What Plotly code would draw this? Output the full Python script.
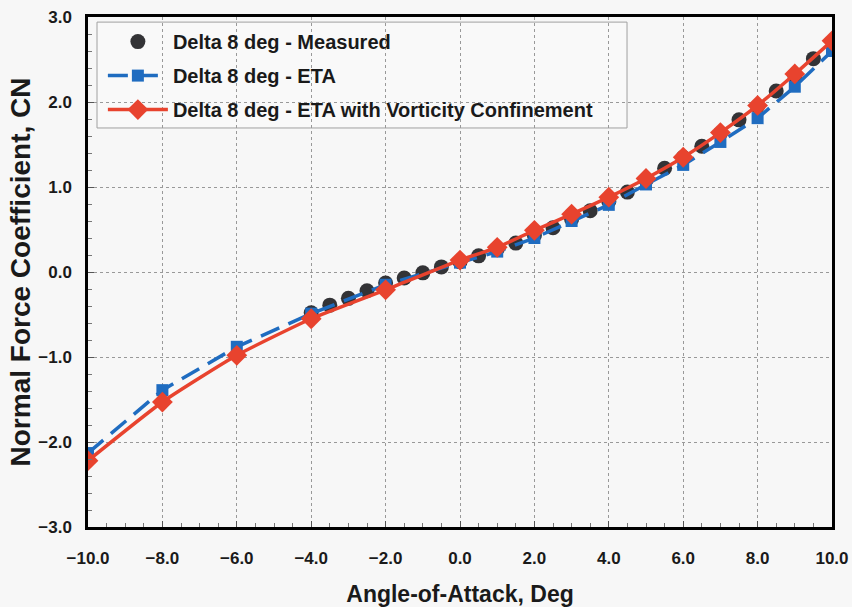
import plotly.graph_objects as go

# ---- data ----
meas_x = [-4.0, -3.5, -3.0, -2.5, -2.0, -1.5, -1.0, -0.5, 0.0, 0.5, 1.0, 1.5, 2.0, 2.5,
          3.0, 3.5, 4.0, 4.5, 5.0, 5.5, 6.0, 6.5, 7.0, 7.5, 8.0, 8.5, 9.0, 9.5]
meas_y = [-0.48, -0.39, -0.31, -0.22, -0.13, -0.07, -0.01, 0.06, 0.12, 0.19, 0.27, 0.34,
          0.43, 0.52, 0.62, 0.72, 0.83, 0.94, 1.08, 1.22, 1.35, 1.48, 1.63, 1.79, 1.95,
          2.13, 2.31, 2.51]

eta_x = [-10, -8, -6, -4, -2, 0, 1, 2, 3, 4, 5, 6, 7, 8, 9, 10]
eta_y = [-2.13, -1.39, -0.88, -0.49, -0.15, 0.11, 0.24, 0.40, 0.60, 0.79, 1.03, 1.26,
         1.53, 1.81, 2.18, 2.60]

vc_x = [-10, -8, -6, -4, -2, 0, 1, 2, 3, 4, 5, 6, 7, 8, 9, 10]
vc_y = [-2.22, -1.53, -0.98, -0.55, -0.21, 0.14, 0.29, 0.49, 0.68, 0.88, 1.10, 1.35,
        1.64, 1.96, 2.33, 2.72]

x_ticks = [-10, -8, -6, -4, -2, 0, 2, 4, 6, 8, 10]
y_ticks = [-3, -2, -1, 0, 1, 2, 3]

names = ["Delta 8 deg - Measured", "Delta 8 deg - ETA",
         "Delta 8 deg - ETA with Vorticity Confinement"]

BLUE = "#1f6cc0"
RED = "#e8432e"
DARK = "#333336"
FONT = "Liberation Sans, Arial, sans-serif"

fig = go.Figure()

fig.add_trace(go.Scatter(
    x=meas_x, y=meas_y, mode="markers", name=names[0], legendgroup="a",
    marker=dict(symbol="circle", size=15, color=DARK)))

fig.add_trace(go.Scatter(
    x=eta_x, y=eta_y, mode="lines+markers", name=names[1], legendgroup="b",
    line=dict(color=BLUE, width=3.5, dash="20px,10px"),
    marker=dict(symbol="square", size=12, color=BLUE)))

fig.add_trace(go.Scatter(
    x=vc_x, y=vc_y, mode="lines+markers", name=names[2], legendgroup="c",
    line=dict(color=RED, width=3.5, shape="spline", smoothing=0.5),
    marker=dict(symbol="diamond", size=16, color=RED)))

axis_common = dict(
    showline=True, linecolor="black", linewidth=2.5, mirror=True,
    showgrid=True, gridcolor="#999999", gridwidth=1, griddash="dot",
    zeroline=False, ticks="inside", ticklen=6, tickcolor="#555",
    tickformat=".1f", automargin=False,
    tickfont=dict(family=FONT, size=17, color="#1a1a1a", weight="bold"),
)

fig.update_xaxes(
    range=[-10, 10], tickvals=x_ticks, ticklabelstandoff=14,
    minor=dict(dtick=0.5, ticks="inside", ticklen=4, tickcolor="#777", showgrid=False),
    title=dict(text="Angle-of-Attack, Deg", standoff=24,
               font=dict(family=FONT, size=23, color="#1a1a1a", weight="bold")),
    **axis_common)

fig.update_yaxes(
    range=[-3, 3], tickvals=y_ticks, ticklabelstandoff=10,
    minor=dict(dtick=0.2, ticks="inside", ticklen=4, tickcolor="#777", showgrid=False),
    title=dict(text="Normal Force Coefficient, CN", standoff=0,
               font=dict(family=FONT, size=28, color="#1a1a1a", weight="bold")),
    **axis_common)

# legend frame (box a bit wider than the text, as in the original)
fig.add_shape(type="rect", xref="paper", yref="paper",
              x0=0.0121, x1=0.7245, y0=0.7824, y1=0.990,
              fillcolor="#f9f9f9", line=dict(color="#a0a0a0", width=1), layer="below")

fig.update_layout(
    width=852, height=607,
    margin=dict(l=88, r=20, t=17, b=80),
    paper_bgcolor="#f7f7f7", plot_bgcolor="#f7f7f7",
    showlegend=True,
    legend=dict(
        x=0.020, y=0.99, xanchor="left", yanchor="top",
        bgcolor="rgba(0,0,0,0)", borderwidth=0,
        font=dict(family=FONT, size=20, color="#1a1a1a", weight="bold"),
        itemwidth=60, tracegroupgap=5, traceorder="grouped",
    ),
)

fig.write_html("out.html")
